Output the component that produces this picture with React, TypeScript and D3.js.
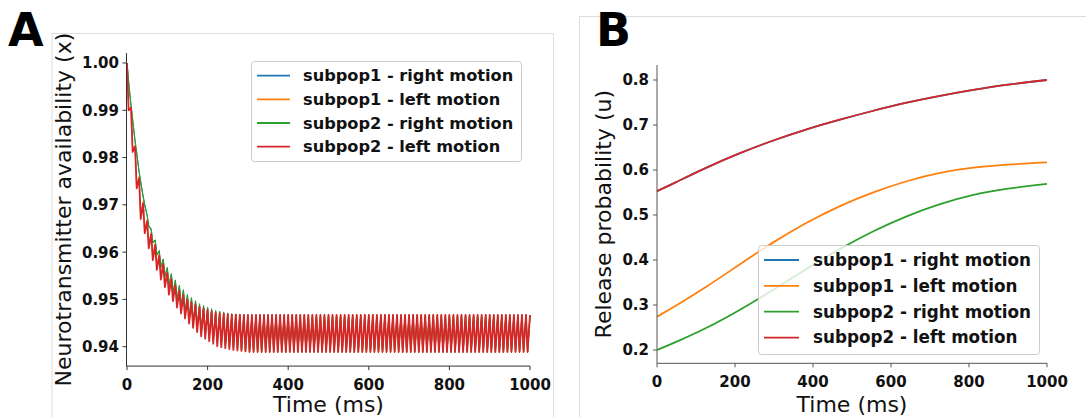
import React from "react";
import * as d3 from "d3";

const seriesNames = [
  "subpop1 - right motion",
  "subpop1 - left motion",
  "subpop2 - right motion",
  "subpop2 - left motion",
];
const seriesColors = ["#1f77b4", "#ff7f0e", "#2ca02c", "#d62728"];

const xTicks = [0, 200, 400, 600, 800, 1000];

// Panel A: neurotransmitter availability (x) — envelopes of the spike-driven sawtooth
const aYTicks = [0.94, 0.95, 0.96, 0.97, 0.98, 0.99, 1.0];
const spikePeriodMs = 10;
const envTimes = [0, 10, 20, 30, 40, 50, 60, 80, 100, 125, 150, 180, 220, 260, 300, 1000];
const blueUpper = [1.0, 0.991, 0.9835, 0.977, 0.9718, 0.9678, 0.9648, 0.9603, 0.9567, 0.9534, 0.951, 0.949, 0.9476, 0.9469, 0.9467, 0.9467];
const blueLower = [0.996, 0.988, 0.981, 0.9748, 0.97, 0.9655, 0.962, 0.9568, 0.9528, 0.949, 0.946, 0.9432, 0.9408, 0.9396, 0.9389, 0.9389];
const orangeUpper = [1.0, 0.9907, 0.9826, 0.976, 0.9708, 0.967, 0.9643, 0.9597, 0.956, 0.9527, 0.9503, 0.9486, 0.9473, 0.9468, 0.9467, 0.9467];
const orangeLower = [0.9902, 0.9816, 0.974, 0.9676, 0.9646, 0.9614, 0.959, 0.9549, 0.9517, 0.9483, 0.9455, 0.9427, 0.9404, 0.9395, 0.9389, 0.9389];
const greenUpper = [1.0, 0.991, 0.9835, 0.977, 0.9718, 0.9678, 0.9648, 0.9603, 0.9567, 0.9534, 0.951, 0.949, 0.9476, 0.9469, 0.9467, 0.9467];
const greenLower = [0.996, 0.988, 0.981, 0.9748, 0.97, 0.9655, 0.962, 0.9568, 0.9528, 0.949, 0.946, 0.9432, 0.9408, 0.9396, 0.9389, 0.9389];
const redUpper = [1.0, 0.9905, 0.9823, 0.9756, 0.9703, 0.9665, 0.9638, 0.9592, 0.9556, 0.9523, 0.95, 0.9484, 0.9472, 0.9468, 0.9467, 0.9467];
const redLower = [0.99, 0.9812, 0.9735, 0.967, 0.964, 0.9608, 0.9583, 0.9542, 0.951, 0.9476, 0.9449, 0.9422, 0.9401, 0.9393, 0.9389, 0.9389];

// Panel B: release probability (u)
const bYTicks = [0.2, 0.3, 0.4, 0.5, 0.6, 0.7, 0.8];
const bTimes = [0, 42, 127, 213, 298, 384, 469, 555, 640, 726, 811, 897, 1000];
const bBlue = [0.553, 0.57, 0.606, 0.638, 0.666, 0.691, 0.712, 0.732, 0.75, 0.765, 0.778, 0.79, 0.8];
const bOrange = [0.274, 0.295, 0.34, 0.391, 0.44, 0.484, 0.521, 0.551, 0.576, 0.595, 0.606, 0.612, 0.617];
const bGreen = [0.2, 0.215, 0.248, 0.289, 0.333, 0.381, 0.425, 0.465, 0.498, 0.525, 0.546, 0.559, 0.569];
const bRed = [0.553, 0.57, 0.606, 0.638, 0.666, 0.691, 0.712, 0.732, 0.75, 0.765, 0.778, 0.79, 0.8];

const FONT = "DejaVu Sans, sans-serif";

function sawtooth(upper: number[], lower: number[]): [number, number][] {
  const up = d3.scaleLinear().domain(envTimes).range(upper);
  const lo = d3.scaleLinear().domain(envTimes).range(lower);
  const pts: [number, number][] = [];
  for (let t = 0; t < 1000; t += spikePeriodMs) {
    pts.push([t, up(t)]);
    pts.push([t + 4, lo(t)]);
  }
  pts.push([1000, up(1000)]);
  return pts;
}

function Legend({ x, y, w, h, lineX0, lineX1, textX, rows, fontSize }: any) {
  return (
    <g>
      <rect x={x} y={y} width={w} height={h} rx={3} fill="white" fillOpacity={0.8} stroke="#cccccc" strokeWidth={1} />
      {seriesNames.map((n, i) => (
        <g key={n}>
          <line x1={lineX0} x2={lineX1} y1={rows[i]} y2={rows[i]} stroke={seriesColors[i]} strokeWidth={1.8} />
          <text x={textX} y={rows[i]} dy="0.35em" fontFamily={FONT} fontWeight="bold" fontSize={fontSize} fill="#111">
            {n}
          </text>
        </g>
      ))}
    </g>
  );
}

export default function App() {
  // Panel A scales
  const ax = d3.scaleLinear().domain([0, 1000]).range([127, 530]);
  const ay = d3.scaleLinear().domain([0.94, 1.0]).range([346.7, 63]);
  const aYMin = 0.9359, aYMax = 1.0021;
  const aLine = d3.line<[number, number]>().x((d) => ax(d[0])).y((d) => ay(d[1]));
  const aSeries = [
    sawtooth(blueUpper, blueLower),
    sawtooth(orangeUpper, orangeLower),
    sawtooth(greenUpper, greenLower),
    sawtooth(redUpper, redLower),
  ];

  // Panel B scales
  const bx = d3.scaleLinear().domain([0, 1000]).range([657, 1047]);
  const by = d3.scaleLinear().domain([0.2, 0.8]).range([350, 80]);
  const bYMin = 0.1704, bYMax = 0.8333;
  const bLine = d3
    .line<number>()
    .x((_, i) => bx(bTimes[i]))
    .y((d) => by(d))
    .curve(d3.curveBasis);
  const bSeries = [bBlue, bOrange, bGreen, bRed];

  const aAxisY = ay(aYMin);
  const bAxisY = by(bYMin);

  return (
    <svg width={1086} height={417} style={{ position: "absolute", left: 0, top: 0, background: "white" }}>
      {/* panel frames */}
      <path d="M52,417 L52,33.5 L553.5,33.5 L553.5,417" fill="none" stroke="#dddddd" strokeWidth={1} />
      <path d="M579.5,417 L579.5,16.5 L1086,16.5" fill="none" stroke="#dddddd" strokeWidth={1} />

      {/* panel letters */}
      <text x={8} y={46} fontFamily={FONT} fontWeight="bold" fontSize={46} fill="#000">A</text>
      <text x={596} y={46} fontFamily={FONT} fontWeight="bold" fontSize={46} fill="#000">B</text>

      {/* ===== Panel A ===== */}
      <g>
        {aSeries.map((pts, i) => (
          <path key={i} d={aLine(pts) || ""} fill="none" stroke={seriesColors[i]} strokeWidth={i === 3 ? 1.8 : 1.1} strokeLinejoin="round" />
        ))}
        <line x1={126.5} x2={126.5} y1={ay(aYMax)} y2={aAxisY} stroke="#333" strokeWidth={1} />
        <line x1={126.5} x2={ax(1000)} y1={aAxisY} y2={aAxisY} stroke="#333" strokeWidth={1} />
        {aYTicks.map((t) => (
          <g key={t}>
            <line x1={122.5} x2={126.5} y1={ay(t)} y2={ay(t)} stroke="#333" strokeWidth={1} />
            <text x={119} y={ay(t)} dy="0.36em" textAnchor="end" fontFamily={FONT} fontWeight="bold" fontSize={15} fill="#111">
              {t.toFixed(2)}
            </text>
          </g>
        ))}
        {xTicks.map((t) => (
          <g key={t}>
            <line x1={ax(t)} x2={ax(t)} y1={aAxisY} y2={aAxisY + 4} stroke="#333" strokeWidth={1} />
            <text x={ax(t)} y={390} textAnchor="middle" fontFamily={FONT} fontWeight="bold" fontSize={15} fill="#111">
              {t}
            </text>
          </g>
        ))}
        <text x={328.5} y={412} textAnchor="middle" fontFamily={FONT} fontSize={22} fill="#111">Time (ms)</text>
        <text transform={`translate(71,${(ay(aYMax) + aAxisY) / 2}) rotate(-90)`} textAnchor="middle" fontFamily={FONT} fontSize={22} fill="#111">
          Neurotransmitter availability (x)
        </text>
        <Legend x={251.5} y={61.5} w={270} h={100} lineX0={257} lineX1={290} textX={303} rows={[75.7, 99.3, 123, 146.7]} fontSize={16.2} />
      </g>

      {/* ===== Panel B ===== */}
      <g>
        {bSeries.map((vals, i) => (
          <path key={i} d={bLine(vals) || ""} fill="none" stroke={seriesColors[i]} strokeWidth={1.8} />
        ))}
        <line x1={657} x2={657} y1={by(bYMax)} y2={bAxisY} stroke="#555" strokeWidth={1} />
        <line x1={657} x2={bx(1000)} y1={bAxisY} y2={bAxisY} stroke="#555" strokeWidth={1} />
        {bYTicks.map((t) => (
          <g key={t}>
            <line x1={653} x2={657} y1={by(t)} y2={by(t)} stroke="#555" strokeWidth={1} />
            <text x={649} y={by(t)} dy="0.36em" textAnchor="end" fontFamily={FONT} fontWeight="bold" fontSize={15} fill="#111">
              {t.toFixed(1)}
            </text>
          </g>
        ))}
        {xTicks.map((t) => (
          <g key={t}>
            <line x1={bx(t)} x2={bx(t)} y1={bAxisY} y2={bAxisY + 4} stroke="#555" strokeWidth={1} />
            <text x={bx(t)} y={387} textAnchor="middle" fontFamily={FONT} fontWeight="bold" fontSize={15} fill="#111">
              {t}
            </text>
          </g>
        ))}
        <text x={852} y={412} textAnchor="middle" fontFamily={FONT} fontSize={22} fill="#111">Time (ms)</text>
        <text transform={`translate(611,${(by(bYMax) + bAxisY) / 2}) rotate(-90)`} textAnchor="middle" fontFamily={FONT} fontSize={22} fill="#111">
          Release probability (u)
        </text>
        <Legend x={758.5} y={245.5} w={281} h={109} lineX0={764} lineX1={799} textX={813} rows={[260, 285.8, 311.7, 337.6]} fontSize={16.8} />
      </g>
    </svg>
  );
}
